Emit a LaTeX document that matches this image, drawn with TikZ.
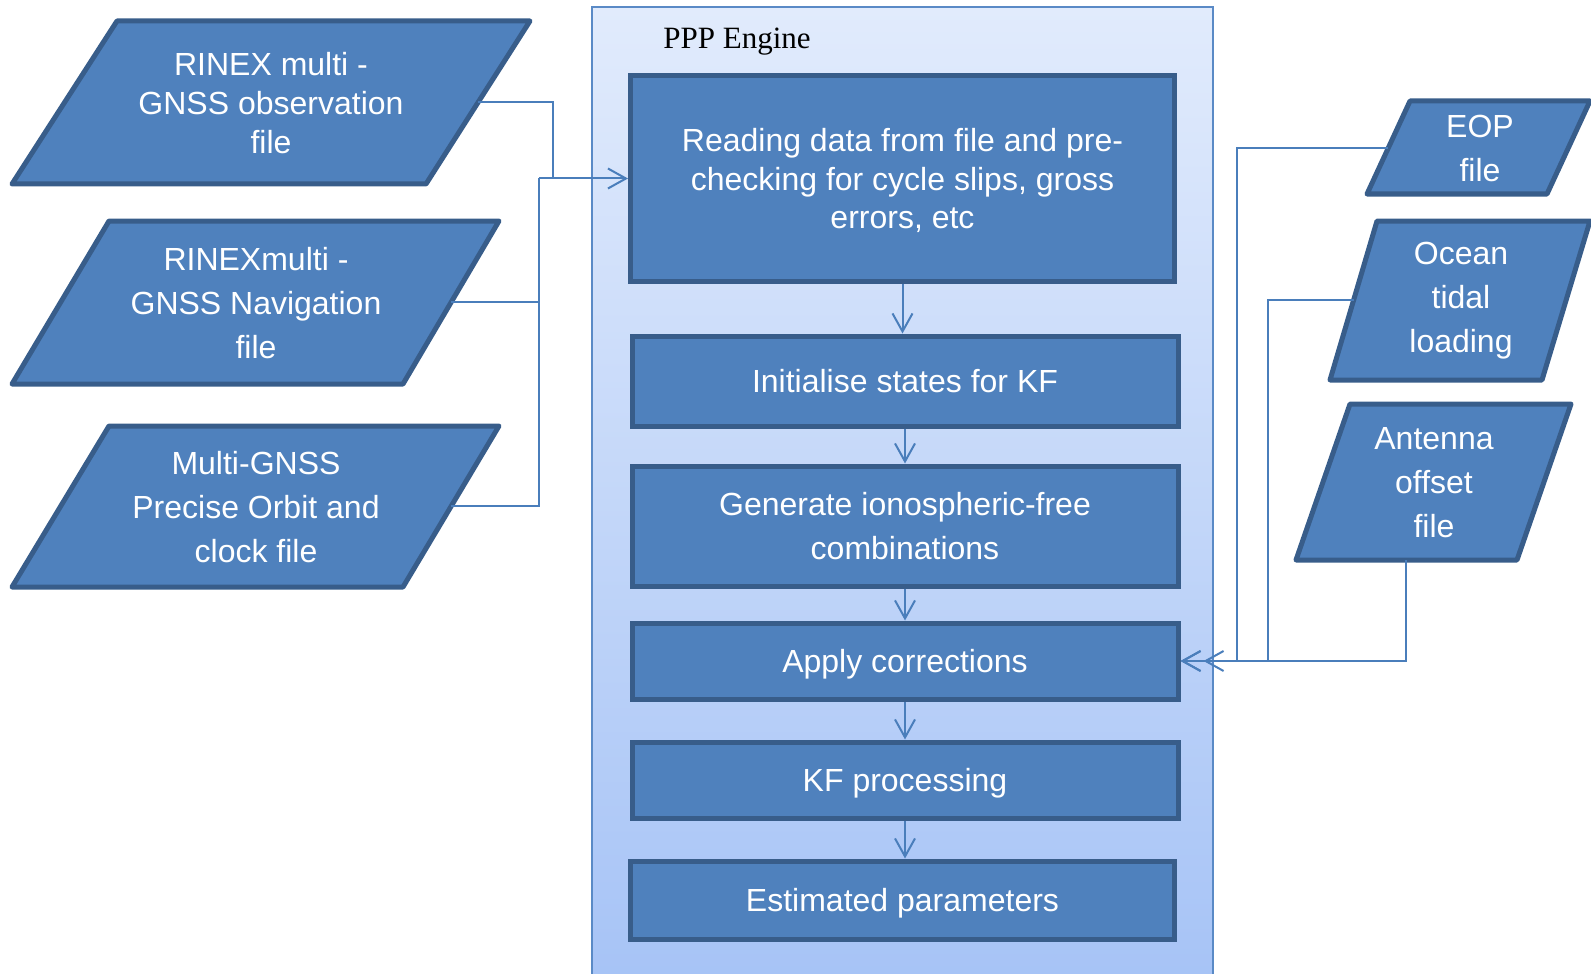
\documentclass[tikz,border=0pt]{standalone}
\usepackage{fontspec}
\setmainfont{Liberation Sans}
\newfontfamily\enginefont{Liberation Serif}
\usetikzlibrary{arrows.meta}
\definecolor{boxfill}{HTML}{4F81BD}
\definecolor{boxline}{HTML}{385D8A}
\definecolor{wirecol}{HTML}{4A7EBB}
\definecolor{enginetop}{HTML}{E1EBFC}
\definecolor{enginebot}{HTML}{A6C3F6}
\definecolor{engineline}{HTML}{5A8AC6}

\begin{document}
\begin{tikzpicture}[
    x=0.5pt, y=-0.5pt,
    procbox/.style={rectangle, draw=boxline, line width=2.5pt, fill=boxfill, text=white, minimum width=272pt, font=\fontsize{16}{19.3}\selectfont, align=center, text depth=0pt},
    datashape/.style={draw=boxline, line width=2.5pt, fill=boxfill, line join=round},
    datatext/.style={text=white, font=\fontsize{16}{22}\selectfont, align=center, inner sep=0pt},
    link/.style={line width=1pt, wirecol},
    flow/.style={-{Straight Barb[length=9pt,width=10pt]}, line width=1pt, wirecol},
]
\clip (0,0) rectangle (1591,974);
\shade[top color=enginetop, bottom color=enginebot, draw=engineline, line width=1.2pt] (592,7) rectangle (1213,990);
\node[font=\enginefont\fontsize{15.5}{18}\selectfont] (title) at (737,42) {PPP Engine};

\node[procbox, minimum height=103pt] (read) at (902.5,178.5) {Reading data from file and pre-\\checking for cycle slips, gross\\errors, etc};
\node[procbox, minimum height=45pt, minimum width=273pt] (init) at (905,381) {Initialise states for KF};
\node[procbox, minimum height=60pt, minimum width=273pt, font=\fontsize{16}{22}\selectfont] (gen) at (905,526) {Generate ionospheric-free\\combinations};
\node[procbox, minimum height=38pt, minimum width=273pt] (apply) at (905,661) {Apply corrections};
\node[procbox, minimum height=38pt, minimum width=273pt] (kf) at (905,780) {KF processing};
\node[procbox, minimum height=39pt] (est) at (902.5,900) {Estimated parameters};

\draw[datashape] (117,21) -- (530,21) -- (426,184) -- (12,184) -- cycle;
\node[datatext, font=\fontsize{16}{19.5}\selectfont] (obs) at (271,103) {RINEX multi -\\GNSS observation\\file};
\draw[datashape] (109,221) -- (499,221) -- (403,384) -- (12,384) -- cycle;
\node[datatext] (nav) at (256,303) {RINEXmulti -\\GNSS Navigation\\file};
\draw[datashape] (109,426) -- (499,426) -- (403,587) -- (12,587) -- cycle;
\node[datatext] (orbit) at (256,507) {Multi-GNSS\\Precise Orbit and\\clock file};

\draw[datashape] (1410,101) -- (1590,101) -- (1547,194) -- (1367,194) -- cycle;
\node[datatext] (eop) at (1480,148) {EOP\\file};
\draw[datashape] (1377,221) -- (1590,221) -- (1542,380) -- (1330,380) -- cycle;
\node[datatext] (ocean) at (1461,301) {Ocean\\tidal\\loading};
\draw[datashape] (1350,404) -- (1571,404) -- (1517,560) -- (1296,560) -- cycle;
\node[datatext] (antenna) at (1434,483) {Antenna\\offset\\file};

\coordinate (obsout) at (478,102);
\coordinate (navout) at (451,302);
\coordinate (orbout) at (451,506);
\coordinate (obsdrop) at (553,178.5);
\coordinate (joinleft) at (539,178.5);
\coordinate (eopout) at (1388,148);
\coordinate (oceanout) at (1354,300);
\coordinate (antout) at (1406,560);

\draw[link] (obsout) -| (obsdrop);
\draw[link] (navout) -- (navout -| joinleft);
\draw[link] (orbout) -| (joinleft);
\draw[flow] (joinleft) -- (read.west);

\draw[flow] (read.south) -- (read.south |- init.north);
\draw[flow] (init) -- (gen);
\draw[flow] (gen) -- (apply);
\draw[flow] (apply) -- (kf);
\draw[flow] (kf.south) -- (kf.south |- est.north);

\draw[flow] (eopout) -- ++(-151,0) |- (apply.east);
\draw[flow] (oceanout) -- ++(-86,0) |- ([xshift=11.5pt]apply.east);
\draw[flow] (antout) |- (apply.east);
\end{tikzpicture}
\end{document}
